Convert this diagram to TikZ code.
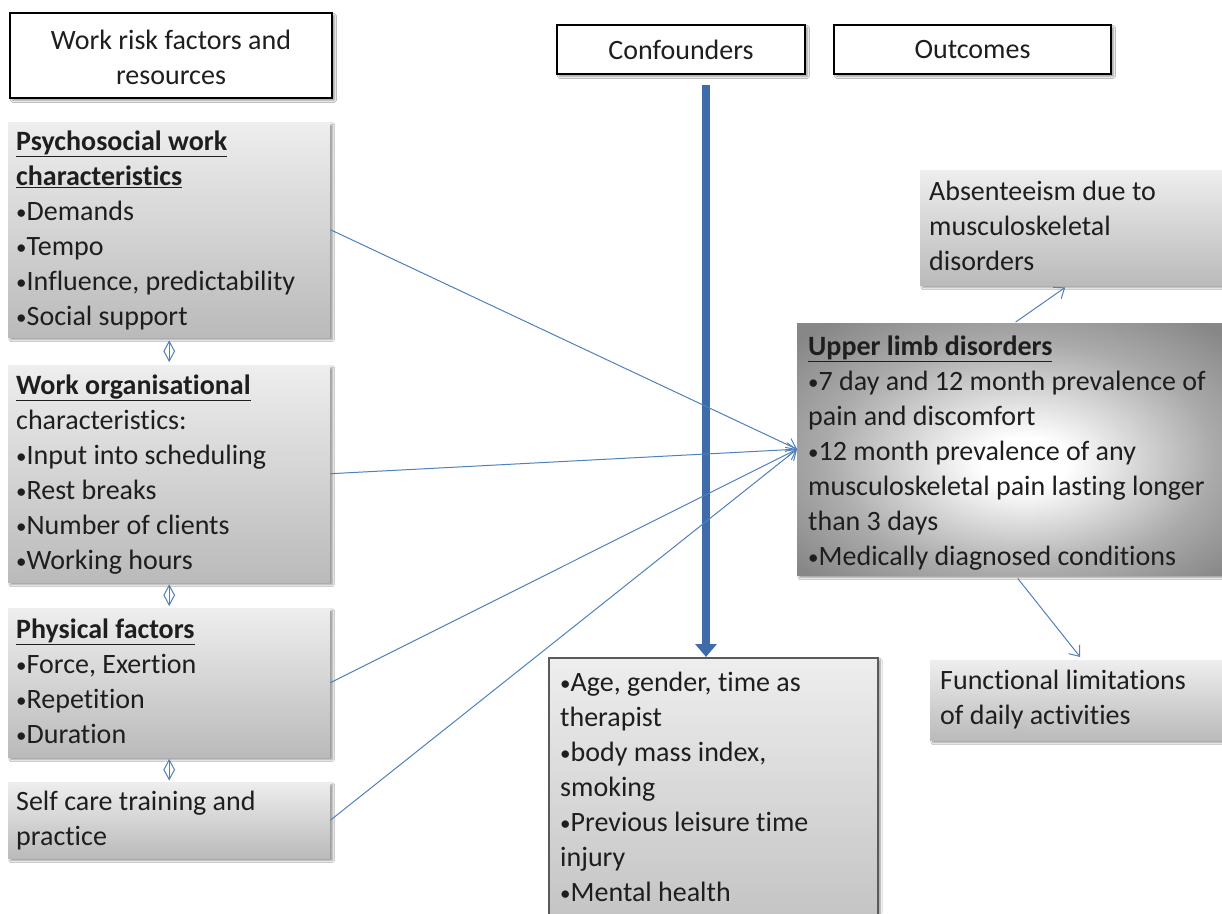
\documentclass[tikz,border=0pt]{standalone}
\usepackage{fontspec}
\usepackage{graphicx}
\setmainfont{Carlito}[Ligatures={NoCommon}]
\usetikzlibrary{arrows.meta,shapes.geometric,calc,shadows.blur}
\definecolor{lnblue}{RGB}{79,129,189}
\definecolor{thkblue}{RGB}{62,108,168}
\definecolor{gtop}{RGB}{238,238,238}
\definecolor{gbot}{RGB}{186,186,186}
\definecolor{ctop}{RGB}{238,238,238}
\definecolor{cbot}{RGB}{196,196,196}
\definecolor{txtc}{RGB}{30,30,30}
\definecolor{ulmid}{RGB}{170,170,170}
\definecolor{ulout}{RGB}{135,135,135}
\newcommand\bul{\raisebox{0.5pt}{\scalebox{0.75}{•}}}
\pgfdeclareradialshading{ulshade}{\pgfpoint{2bp}{-3bp}}{color(0bp)=(white); color(5bp)=(white); color(23bp)=(ulmid); color(34bp)=(ulout); color(50bp)=(ulout)}
\tikzset{
  shad/.style={blur shadow={shadow xshift=2.5pt, shadow yshift=-2.5pt, shadow blur steps=6, shadow opacity=40}},
  hdr/.style={draw=black, line width=2.6pt, fill=white, inner sep=0pt, text=txtc, align=center,
    font=\fontsize{28}{35}\selectfont, shad},
  gbox/.style={top color=gtop, bottom color=gbot, draw=none, inner sep=0pt, anchor=north west, shad},
  cbox/.style={top color=ctop, bottom color=cbot, draw={rgb,255:red,90;green,90;blue,90}, line width=1.5pt,
    inner sep=0pt, anchor=north west, shad},
  ulbox/.style={shading=ulshade, draw=none, inner sep=0pt, anchor=north west, shad},
  txt/.style={align=left, inner sep=0pt, anchor=west, text=txtc, font=\fontsize{28}{35}\selectfont},
  lnk/.style={draw=lnblue, line width=1pt, -{Straight Barb[length=9pt,width=14pt]}},
  diam/.style={diamond, draw=lnblue, line width=1pt, minimum width=11pt, minimum height=20pt, inner sep=0pt,
    path picture={\draw[lnblue, line width=1pt] (path picture bounding box.north) -- (path picture bounding box.south);}},
  thk/.style={draw=thkblue, line width=8pt, -{Triangle[length=13pt,width=21pt]}, thkblue}
}
\begin{document}
\begin{tikzpicture}[x=1pt,y=-1pt]
\useasboundingbox[fill=white] (0,0) rectangle (1222,913);

% headers
\node[hdr, minimum width=322pt, minimum height=85pt] (h1) at (171,55.5) {\rule{0pt}{32.5pt}Work risk factors and\\resources\strut};
\node[hdr, minimum width=248pt, minimum height=49pt] (h2) at (681,49.5) {Confounders};
\node[hdr, minimum width=277pt, minimum height=49pt] (h3) at (972.5,49.5) {Outcomes};

% left boxes
\node[gbox, minimum width=322pt, minimum height=215pt] (b1) at (8,122) {};
\node[gbox, minimum width=322pt, minimum height=217pt] (b2) at (8,365) {};
\node[gbox, minimum width=322pt, minimum height=149pt] (b3) at (8,608) {};
\node[gbox, minimum width=322pt, minimum height=76pt] (b4) at (8,782) {};

\node[txt] (t1) at ($(b1.west)+(8,1)$) {\strut\underline{\textbf{Psychosocial work}}\\\underline{\textbf{characteristics}}\\\bul Demands\\\bul Tempo\\\bul Influence, predictability\\\bul Social support\strut};
\node[txt] (t2) at ($(b2.west)+(8,1)$) {\strut\underline{\textbf{Work organisational}}\\characteristics:\\\bul Input into scheduling\\\bul Rest breaks\\\bul Number of clients\\\bul Working hours\strut};
\node[txt] (t3) at ($(b3.west)+(8,1)$) {\strut\underline{\textbf{Physical factors}}\\\bul Force, Exertion\\\bul Repetition\\\bul Duration\strut};
\node[txt] (t4) at ($(b4.west)+(8,1)$) {\strut Self care training and\\practice\strut};

% diamonds
\path (b1.south) -- (b2.north) node[diam, midway] (d1) {};
\path (b2.south) -- (b3.north) node[diam, midway] (d2) {};
\path (b3.south) -- (b4.north) node[diam, midway] (d3) {};

% outcome boxes
\node[gbox, minimum width=302pt, minimum height=115pt] (abs) at (920,170) {};
\node[txt] (ta) at ($(abs.west)+(9,1)$) {\strut Absenteeism due to\\musculoskeletal\\disorders\strut};
\node[gbox, minimum width=292pt, minimum height=80pt] (func) at (930,660) {};
\node[txt] (tf) at ($(func.west)+(10,0)$) {\strut Functional limitations\\of daily activities\strut};
\node[ulbox, minimum width=425pt, minimum height=252pt] (ul) at (797,323) {};
\node[txt] (tu) at ($(ul.west)+(11,4)$) {\strut\underline{\textbf{Upper limb disorders}}\\\bul 7 day and 12 month prevalence of\\pain and discomfort\\\bul 12 month prevalence of any\\musculoskeletal pain lasting longer\\than 3 days\\\bul Medically diagnosed conditions\strut};

% confounders list
\node[cbox, minimum width=329pt, minimum height=261pt] (cl) at (548,657) {};
\node[txt] (tc) at ($(cl.west)+(12,1)$) {\strut\bul Age, gender, time as\\therapist\\\bul body mass index,\\smoking\\\bul Previous leisure time\\injury\\\bul Mental health\strut};

% thick confounder arrow
\coordinate (ctopc) at (706,85);
\draw[thk] (ctopc) -- (cl.north -| ctopc);

% thin arrows
\draw[lnk] (b1.east) -- (ul.west);
\draw[lnk] (b2.east) -- (ul.west);
\draw[lnk] (b3.east) -- (ul.west);
\draw[lnk] (b4.east) -- (ul.west);
\draw[lnk] ($(ul.north)+(6,-1)$) -- ($(abs.south)+(-6,2)$);
\draw[lnk] ($(ul.south)+(8,3)$) -- ($(func.north)+(4,-3)$);
\end{tikzpicture}
\end{document}
